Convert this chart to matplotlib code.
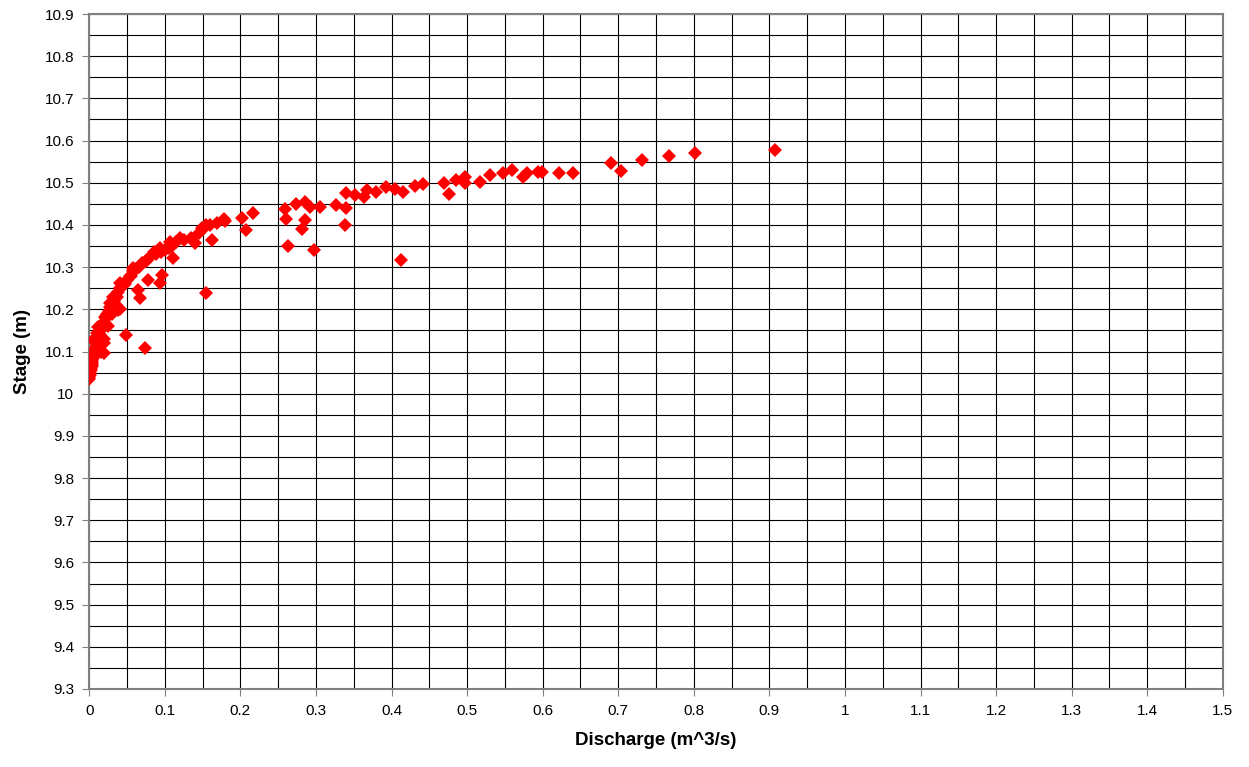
import numpy as np
import matplotlib.pyplot as plt
from matplotlib.ticker import MultipleLocator

# discharge (m^3/s) and stage (m)
discharge = [
    0.000, 0.000, 0.001, 0.001, 0.002, 0.002, 0.003, 0.003, 0.004, 0.004,
    0.005, 0.006, 0.006, 0.007, 0.008, 0.009, 0.010, 0.011, 0.012, 0.014,
    0.015, 0.017, 0.018, 0.020, 0.022, 0.024, 0.026, 0.028, 0.030, 0.033,
    0.036, 0.038, 0.040, 0.043, 0.047, 0.050, 0.055, 0.058, 0.062, 0.066,
    0.070, 0.075, 0.080, 0.088, 0.095, 0.100, 0.105, 0.110, 0.115, 0.125,
    0.135, 0.145, 0.150, 0.160, 0.178,
    0.015, 0.020, 0.025, 0.030, 0.035, 0.040,
    0.000, 0.001, 0.005, 0.010, 0.012, 0.019, 0.019, 0.021, 0.027, 0.032,
    0.038, 0.041, 0.049, 0.054, 0.058, 0.065, 0.067, 0.074, 0.076, 0.078,
    0.085, 0.094, 0.094, 0.096, 0.107, 0.111, 0.120, 0.140, 0.149, 0.155,
    0.155, 0.162, 0.169, 0.180,
    0.202, 0.208, 0.217, 0.259, 0.260, 0.263, 0.273, 0.285, 0.285, 0.281,
    0.292, 0.298, 0.305, 0.326, 0.340, 0.338, 0.340, 0.352, 0.363, 0.367,
    0.380, 0.393, 0.404, 0.415, 0.412, 0.431, 0.441, 0.470, 0.476, 0.485,
    0.497, 0.497, 0.517, 0.530, 0.548, 0.559, 0.574, 0.594,
    0.579, 0.599, 0.621, 0.640, 0.690, 0.703, 0.732, 0.767, 0.802, 0.907,
]
stage = [
    10.035, 10.040, 10.045, 10.050, 10.055, 10.060, 10.065, 10.070, 10.075, 10.080,
    10.085, 10.090, 10.095, 10.100, 10.105, 10.110, 10.115, 10.120, 10.130, 10.140,
    10.150, 10.155, 10.165, 10.170, 10.180, 10.190, 10.195, 10.205, 10.210, 10.220,
    10.230, 10.240, 10.250, 10.255, 10.260, 10.270, 10.280, 10.290, 10.295, 10.300,
    10.310, 10.315, 10.325, 10.330, 10.335, 10.340, 10.345, 10.350, 10.360, 10.365,
    10.370, 10.380, 10.390, 10.400, 10.415,
    10.100, 10.130, 10.160, 10.190, 10.210, 10.200,
    10.049, 10.088, 10.127, 10.143, 10.159, 10.096, 10.120, 10.183, 10.214, 10.230,
    10.199, 10.262, 10.139, 10.278, 10.297, 10.246, 10.226, 10.108, 10.317, 10.270,
    10.337, 10.345, 10.262, 10.282, 10.360, 10.321, 10.368, 10.357, 10.392, 10.400,
    10.238, 10.364, 10.404, 10.410,
    10.416, 10.388, 10.428, 10.438, 10.414, 10.350, 10.449, 10.455, 10.412, 10.390,
    10.443, 10.341, 10.443, 10.447, 10.440, 10.400, 10.475, 10.471, 10.466, 10.483,
    10.479, 10.491, 10.485, 10.479, 10.317, 10.492, 10.497, 10.500, 10.473, 10.507,
    10.499, 10.514, 10.503, 10.518, 10.522, 10.530, 10.514, 10.526,
    10.523, 10.526, 10.523, 10.523, 10.547, 10.528, 10.554, 10.564, 10.571, 10.578,
]

plt.rcParams['font.family'] = ['Liberation Sans', 'DejaVu Sans']

fig = plt.figure(figsize=(12.49, 7.67), dpi=100)
ax = fig.add_axes([0.0715, 0.1017, 0.9075, 0.88])

ax.plot(discharge, stage, linestyle='none', marker='D', markersize=7.4,
        color='#ff0000', markeredgewidth=0, zorder=3)

ax.set_xlim(0, 1.5)
ax.set_ylim(9.3, 10.9)
ax.xaxis.set_major_locator(MultipleLocator(0.1))
ax.yaxis.set_major_locator(MultipleLocator(0.1))
ax.xaxis.set_minor_locator(MultipleLocator(0.05))
ax.yaxis.set_minor_locator(MultipleLocator(0.05))
ax.xaxis.set_major_formatter(plt.FuncFormatter(lambda v, p: f"{v:.1f}".rstrip('0').rstrip('.') if v else "0"))
ax.yaxis.set_major_formatter(plt.FuncFormatter(lambda v, p: f"{v:.1f}".rstrip('0').rstrip('.')))

ax.grid(which='both', color='black', linewidth=0.8, zorder=0)
ax.set_axisbelow(True)
ax.tick_params(which='major', direction='out', length=5, color='#808080', labelsize=11, pad=6)
ax.tick_params(which='minor', length=0)
for s in ax.spines.values():
    s.set_color('#808080')
    s.set_linewidth(1.5)

ax.set_xlabel("Discharge (m^3/s)", fontsize=13.5, fontweight='bold', labelpad=10)
ax.set_ylabel("Stage (m)", fontsize=13.5, fontweight='bold', labelpad=10)

fig.savefig("out.png", dpi=100)
